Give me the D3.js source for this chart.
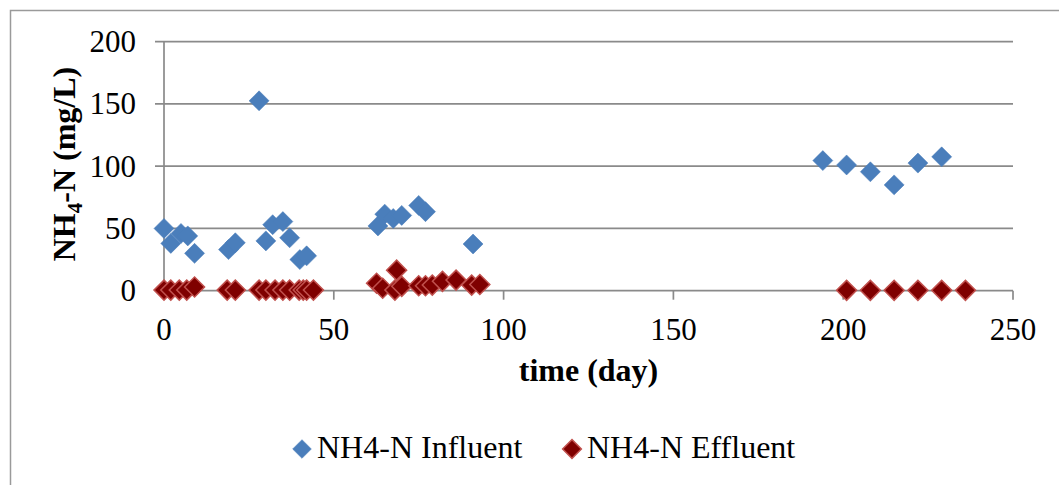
<!DOCTYPE html>
<html>
<head>
<meta charset="utf-8">
<script src="https://cdn.jsdelivr.net/npm/d3@7"></script>
<style>
  body { margin: 0; background: #fff; }
  .tick-label { font-size: 31px; fill: #000; }
  .axis-title { font-size: 32px; font-weight: bold; fill: #000; }
  .legend-label { font-size: 32px; fill: #000; }
</style>
</head>
<body>
<div id="chart"></div>
<script>
const width = 1059, height = 485;
const plot = { left: 164, right: 1013, top: 41.7, bottom: 290.7 };
const fontFamily = "'Liberation Serif', 'Times New Roman'";

// NH4-N influent (day, mg/L)
const influentDays = [0, 2, 5, 7, 9, 19, 21, 28, 30, 32, 35, 37, 40, 42, 63, 65, 67.5, 70, 75, 77, 91, 194, 201, 208, 215, 222, 229];
const influentVals = [50, 38, 46, 44, 30, 33, 38.5, 152.5, 40, 53, 55.5, 42.5, 25, 28, 52, 61.5, 58, 60.5, 68.5, 63.5, 37.5, 104.5, 101, 95.5, 85, 102.5, 107.5];

// NH4-N effluent (day, mg/L)
const effluentDays = [0, 2, 4.5, 6.7, 9, 18.6, 21, 28, 30, 32.7, 35, 37, 39.8, 41, 42, 44, 62.6, 64.4, 68, 68.5, 70, 75, 77, 79, 82, 86, 90.6, 93, 201, 208, 215, 222, 229, 236];
const effluentVals = [0.5, 0.5, 0.5, 0.5, 3, 0.5, 0.5, 0.5, 0.5, 0.5, 0.5, 0.5, 0.5, 0.5, 0.5, 0.5, 6, 2, 0.5, 16.5, 3.5, 4, 4, 4.5, 7.5, 8.5, 4.5, 5, 0.3, 0.3, 0.3, 0.3, 0.3, 0.3];

const xTicks = [0, 50, 100, 150, 200, 250];
const yTicks = [0, 50, 100, 150, 200];

const seriesNames = ['NH4-N Influent', 'NH4-N Effluent'];

const xScale = d3.scaleLinear().domain([0, 250]).range([plot.left, plot.right]);
const yScale = d3.scaleLinear().domain([0, 200]).range([plot.bottom, plot.top]);

const axisColor = '#8a8a8a';
const diamond = d3.symbol().type(d3.symbolSquare).size(200);
const legendDiamond = d3.symbol().type(d3.symbolSquare).size(175);

const svg = d3.select('#chart').append('svg')
    .attr('width', width)
    .attr('height', height)
    .style('display', 'block');

// outer chart frame (runs off the right and bottom edge)
svg.append('rect')
    .attr('x', 10.5).attr('y', 10.5)
    .attr('width', 1200).attr('height', 700)
    .attr('fill', '#fff')
    .attr('stroke', '#9a9a9a')
    .attr('stroke-width', 1.5);

// horizontal gridlines + y ticks
svg.append('g').selectAll('line')
    .data(yTicks)
    .enter().append('line')
    .attr('x1', plot.left - 9)
    .attr('x2', plot.right)
    .attr('y1', d => yScale(d))
    .attr('y2', d => yScale(d))
    .attr('stroke', axisColor)
    .attr('stroke-width', 1.7);

// y axis line
svg.append('line')
    .attr('x1', plot.left).attr('x2', plot.left)
    .attr('y1', yScale(200)).attr('y2', yScale(0))
    .attr('stroke', axisColor).attr('stroke-width', 1.7);

// x ticks
svg.append('g').selectAll('line')
    .data(xTicks)
    .enter().append('line')
    .attr('x1', d => xScale(d))
    .attr('x2', d => xScale(d))
    .attr('y1', yScale(0))
    .attr('y2', yScale(0) + 9)
    .attr('stroke', axisColor)
    .attr('stroke-width', 1.7);

svg.append('g').selectAll('text')
    .data(yTicks)
    .enter().append('text')
    .attr('class', 'tick-label')
    .attr('font-family', fontFamily)
    .attr('x', 136)
    .attr('y', d => yScale(d))
    .attr('dy', '0.34em')
    .attr('text-anchor', 'end')
    .text(d => d);

svg.append('g').selectAll('text')
    .data(xTicks)
    .enter().append('text')
    .attr('class', 'tick-label')
    .attr('font-family', fontFamily)
    .attr('x', d => xScale(d))
    .attr('y', 340)
    .attr('text-anchor', 'middle')
    .text(d => d);

// axis titles
svg.append('text')
    .attr('class', 'axis-title')
    .attr('font-family', fontFamily)
    .attr('x', (plot.left + plot.right) / 2)
    .attr('y', 381)
    .attr('text-anchor', 'middle')
    .text('time (day)');

const yTitle = svg.append('text')
    .attr('class', 'axis-title')
    .attr('font-family', fontFamily)
    .attr('transform', 'translate(75,164) rotate(-90)')
    .attr('text-anchor', 'middle');
yTitle.append('tspan').text('NH');
yTitle.append('tspan').attr('dy', 7).attr('font-size', 21).text('4');
yTitle.append('tspan').attr('dy', -7).text('-N (mg/L)');

// points
const influent = influentDays.map((d, i) => ({ x: d, y: influentVals[i] }));
const effluent = effluentDays.map((d, i) => ({ x: d, y: effluentVals[i] }));

svg.append('g').selectAll('path')
    .data(influent)
    .enter().append('path')
    .attr('d', diamond)
    .attr('transform', d => `translate(${xScale(d.x)},${yScale(d.y)}) rotate(45)`)
    .attr('fill', '#4a7ebb')
    .attr('stroke', '#4a7ebb')
    .attr('stroke-width', 0.5);

svg.append('g').selectAll('path')
    .data(effluent)
    .enter().append('path')
    .attr('d', diamond)
    .attr('transform', d => `translate(${xScale(d.x)},${yScale(d.y)}) rotate(45)`)
    .attr('fill', '#7f0000')
    .attr('stroke', '#c0504d')
    .attr('stroke-width', 1.5);

// legend
const legendItems = [
    { name: seriesNames[0], cx: 302, fill: '#4a7ebb', stroke: '#4a7ebb', sw: 0.5 },
    { name: seriesNames[1], cx: 572, fill: '#7f0000', stroke: '#c0504d', sw: 1.5 }
];
const legend = svg.append('g').selectAll('g')
    .data(legendItems)
    .enter().append('g');
legend.append('path')
    .attr('d', legendDiamond)
    .attr('transform', d => `translate(${d.cx},449) rotate(45)`)
    .attr('fill', d => d.fill)
    .attr('stroke', d => d.stroke)
    .attr('stroke-width', d => d.sw);
legend.append('text')
    .attr('class', 'legend-label')
    .attr('font-family', fontFamily)
    .attr('x', d => d.cx + 15)
    .attr('y', 458)
    .text(d => d.name);
</script>
</body>
</html>
